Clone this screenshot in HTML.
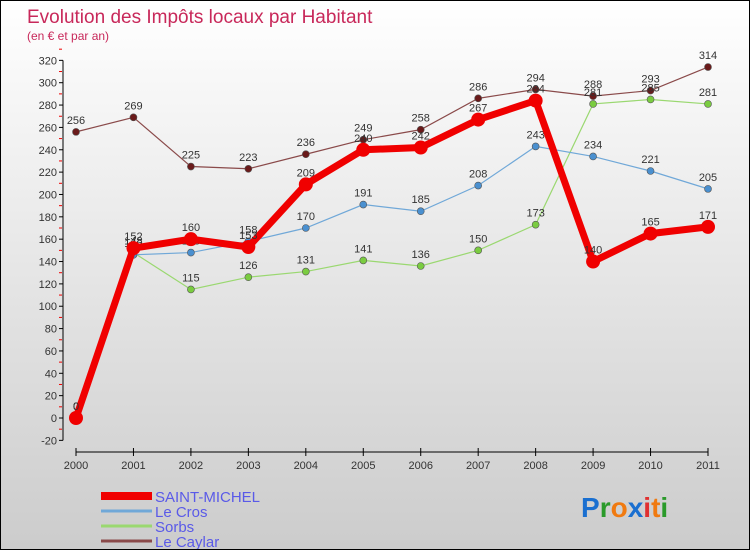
<!DOCTYPE html>
<html><head><meta charset="utf-8"><style>
body{margin:0}
#c{width:748px;height:548px;border:1px solid #000;background:linear-gradient(#fff,#ccc);position:relative;font-family:"Liberation Sans",sans-serif;overflow:hidden}
svg text{font-family:"Liberation Sans",sans-serif}
</style></head><body>
<div id="c">
<svg id="s" width="748" height="548">
<text x="26" y="22" font-size="19" fill="#c8285a">Evolution des Impôts locaux par Habitant</text>
<text x="26" y="39" font-size="12" fill="#c8285a">(en € et par an)</text>
<g id="ax"></g><g id="ser"></g>
<text x="580" y="516" font-size="28" font-weight="bold"><tspan fill="#1a6fd0">P</tspan><tspan fill="#2a9a2a">r</tspan><tspan fill="#f07a10">o</tspan><tspan fill="#1a6fd0">x</tspan><tspan fill="#e03030">i</tspan><tspan fill="#f07a10">t</tspan><tspan fill="#2a9a2a">i</tspan></text>
</svg></div>
<script>
const years=[2000,2001,2002,2003,2004,2005,2006,2007,2008,2009,2010,2011];
const saintMichel=[0,152,160,153,209,240,242,267,284,140,165,171];
const leCros=[0,146,148,158,170,191,185,208,243,234,221,205];
const sorbs=[0,148,115,126,131,141,136,150,173,281,285,281];
const leCaylar=[256,269,225,223,236,249,258,286,294,288,293,314];
const yTicks=[-20,0,20,40,60,80,100,120,140,160,180,200,220,240,260,280,300,320];
const NS="http://www.w3.org/2000/svg";
const X=i=>75+i*(632/11), Y=v=>417-v*(380/340);
function mk(t,a,p){const e=document.createElementNS(NS,t);for(const k in a)e.setAttribute(k,a[k]);p.appendChild(e);return e;}
const ax=document.getElementById('ax');
const yl=mk('line',{x1:62,y1:Y(320),x2:62,y2:Y(-20),stroke:'#000'},ax);


yTicks.forEach(v=>{
 mk('line',{x1:58,x2:62,y1:Y(v),y2:Y(v),stroke:'#000'},ax);
 mk('line',{x1:58,x2:61,y1:Y(v+10),y2:Y(v+10),stroke:'#e00'},ax);
 const t=mk('text',{x:56,y:Y(v)+4,'font-size':11,'text-anchor':'end',fill:'#333'},ax);t.textContent=v;
 
 
});
const xl=mk('line',{x1:75,y1:451,x2:707,y2:451,stroke:'#000'},ax);


years.forEach((y,i)=>{
 mk('line',{x1:X(i),x2:X(i),y1:447,y2:455,stroke:'#000'},ax);
 const t=mk('text',{x:X(i),y:468,'font-size':11,'text-anchor':'middle',fill:'#333'},ax);t.textContent=y;
 
 
});
const ser=document.getElementById('ser');
const series=[
 {n:'le-caylar',d:leCaylar,c:'#8a4a4a',dot:'#6a1a1a',w:1.2,r:3.5,name:'Le Caylar'},
 {n:'sorbs',d:sorbs,c:'#9ad870',dot:'#7acc40',w:1.2,r:3.5,name:'Sorbs'},
 {n:'le-cros',d:leCros,c:'#70a8d8',dot:'#4a90d0',w:1.2,r:3.5,name:'Le Cros'},
 {n:'saint-michel',d:saintMichel,c:'#f00000',dot:'#f00000',w:7,r:7,name:'SAINT-MICHEL'}];
series.forEach(s=>{
 const g=mk('g',{},ser);
 
 
 const p=mk('polyline',{points:s.d.map((v,i)=>X(i)+','+Y(v)).join(' '),fill:'none',stroke:s.c,'stroke-width':s.w},g);
 
 
 s.d.forEach((v,i)=>{
  const c=mk('circle',{cx:X(i),cy:Y(v),r:s.r,fill:s.dot,stroke:s.w>2?'#f00':'#555','stroke-width':s.w>2?0:0.6},g);
  
  
  const t=mk('text',{x:X(i),y:Y(v)-8,'font-size':11,'text-anchor':'middle',fill:'#333'},g);t.textContent=v;
  
  
 });
});
// legend
const lg=mk('g',{},document.getElementById('s'));


const leg=[series[3],series[2],series[1],series[0]];
leg.forEach((s,i)=>{
 const y=493+i*15;
 const e=mk('g',{},lg);
 
 
 mk('line',{x1:100,x2:151,y1:y+2,y2:y+2,stroke:s.c,'stroke-width':i==0?8:3},e);
 const t=mk('text',{x:154,y:y+8,'font-size':15,fill:'#5a5ae8'},e);t.textContent=s.name;
});
</script></body></html>
